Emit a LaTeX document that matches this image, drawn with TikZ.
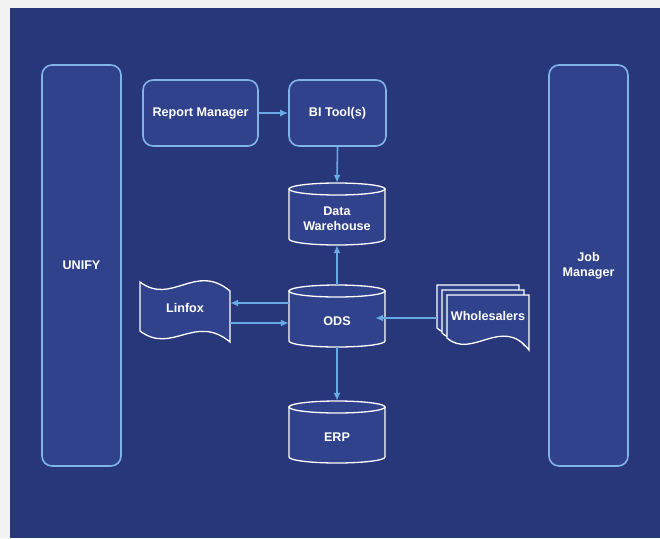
\documentclass[tikz,border=0pt]{standalone}
\usepackage{fontspec}
\setmainfont{Liberation Sans}
\usepackage{xcolor}
\usetikzlibrary{arrows.meta}

\definecolor{paper}{RGB}{242,242,242}
\definecolor{bgblue}{RGB}{40,54,122}
\definecolor{boxfill}{RGB}{48,66,140}
\definecolor{edgeblue}{RGB}{128,180,232}
\definecolor{flowblue}{RGB}{104,170,228}

\tikzset{
  lbl/.style={text=white, font=\fontsize{12.6}{15}\selectfont\bfseries, align=center},
  rbox/.style={lbl, draw=edgeblue, fill=boxfill, line width=1.6pt, rounded corners=10pt},
  store/.style={lbl, minimum width=96pt, minimum height=62pt, inner sep=0pt, text height=19pt},
  flow/.style={draw=flowblue, line width=1.6pt, -{Latex[length=8pt,width=7pt]}},
  outline/.style={draw=white, fill=boxfill, line width=1.3pt},
  pics/page/.style={code={
    \path[outline] (0,0) -- (82,0) -- (82,55) .. controls (55,20) and (25,65) .. (0,43) -- cycle;
  }},
  pics/drum/.style={code={
    \path[outline] (-48,-25) -- (-48,25) arc[start angle=180,end angle=0,x radius=48,y radius=6] -- (48,-25) -- cycle;
    \path[outline] (0,-25) ellipse[x radius=48,y radius=6];
  }}
}

\begin{document}
\begin{tikzpicture}[x=1pt,y=-1pt]
		\fill[paper] (0,0) rectangle (660,538);
		\fill[bgblue] (10,8) rectangle (660,538);
		\useasboundingbox (0,0) rectangle (660,538);

		% side panels
		\node[rbox, minimum width=79pt, minimum height=401pt] (unify) at (81.5,265.5) {UNIFY};
		\node[rbox, minimum width=79pt, minimum height=401pt] (jobmgr) at (588.5,265.5) {Job\\Manager};

		% top row
		\node[rbox, minimum width=115pt, minimum height=66pt] (report) at (200.5,113) {Report Manager};
		\node[rbox, minimum width=97pt, minimum height=66pt] (bitool) at (337.5,113) {BI Tool(s)};

		% data stores
		\pic at (337,214) {drum};
		\node[store, text height=34pt] (dw) at (337,214) {Data\\Warehouse};
		\pic at (337,316) {drum};
		\node[store] (ods) at (337,316) {ODS};
		\pic at (337,432) {drum};
		\node[store] (erp) at (337,432) {ERP};

		% Linfox tape
		\path[outline] (140,282) .. controls (172,306) and (195,262) .. (230,291) -- (230,342)
			.. controls (195,313) and (172,355) .. (140,331) -- cycle;
		\node[lbl, minimum width=90pt] (linfox) at (185,308) {Linfox};

		% Wholesalers pages
		\pic at (437,285) {page};
		\pic at (442,290) {page};
		\pic at (447,295) {page};
		\node[lbl, minimum width=82pt, inner xsep=0pt] (whs) at (488,316) {Wholesalers};

		\draw[flow] (report) -- (bitool);
		\draw[flow] (bitool.south) -- (dw.north);
		\draw[flow] (ods.north) -- (dw.south);
		\draw[flow] (ods.south) -- (erp.north);
		\draw[flow] ([yshift=13pt]ods.west) -- ([yshift=13pt]ods.west -| linfox.east);
		\draw[flow] ([yshift=-7pt]ods.west -| linfox.east) -- ([yshift=-7pt]ods.west);
		\draw[flow] ([shift={(-10pt,-2pt)}]whs.west) -- ([shift={(-10pt,-2pt)}]whs.west -| ods.east);
	\end{tikzpicture}
\end{document}
